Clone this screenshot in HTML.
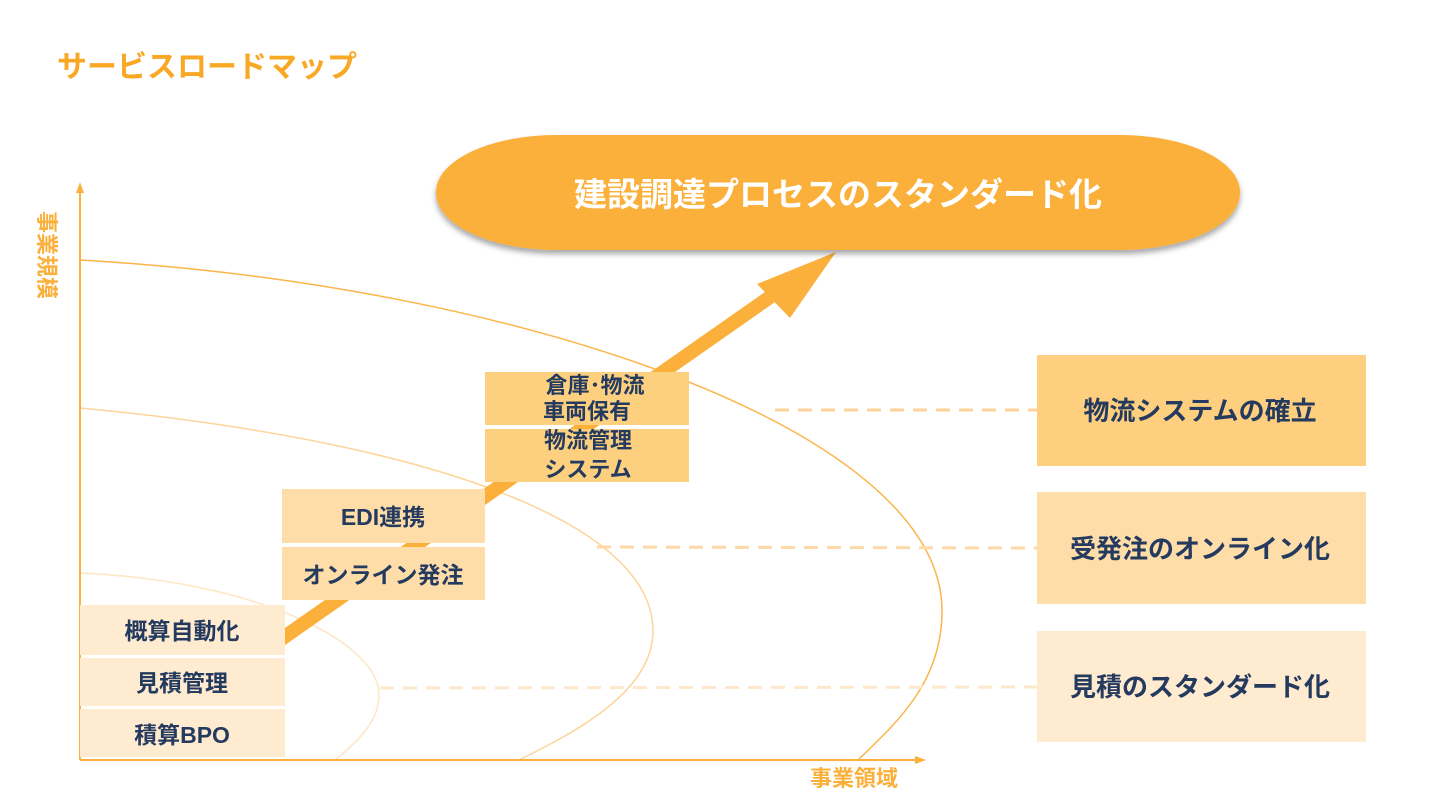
<!DOCTYPE html>
<html><head><meta charset="utf-8"><style>
body{margin:0;background:#fff;width:1440px;height:806px;overflow:hidden;font-family:"Liberation Sans","Noto Sans CJK JP",sans-serif}
</style></head><body>
<svg width="1440" height="806" viewBox="0 0 1440 806" xmlns="http://www.w3.org/2000/svg" style="font-family:'Liberation Sans','Noto Sans CJK JP',sans-serif;font-weight:bold">
<defs><filter id="sh" x="-10%" y="-20%" width="120%" height="150%"><feDropShadow dx="0" dy="4" stdDeviation="3" flood-color="#000" flood-opacity="0.35"/></filter></defs>
<text x="57" y="77" font-size="30" fill="#f9a825">サービスロードマップ</text>
<!-- curves -->
<path d="M80,260 C520,285 942,430 942,611 C942,680 900,720 858,760" fill="none" stroke="#fbb54a" stroke-width="1.5"/>
<path d="M80,408 C420,440 653,520 653,631 C653,690 580,730 519,760" fill="none" stroke="#fdd49a" stroke-width="1.5"/>
<path d="M80,573 C250,580 379,640 379,695 C379,720 360,740 335,760" fill="none" stroke="#fee6c4" stroke-width="1.5"/>
<!-- dashed -->
<g stroke-dasharray="14,9" stroke-width="3">
<line x1="775" y1="410" x2="1037" y2="410" stroke="#fdd39a"/>
<line x1="597" y1="547" x2="1037" y2="548" stroke="#fdd9a8"/>
<line x1="380" y1="688" x2="1037" y2="687" stroke="#fee8cc"/>
</g>
<!-- axes -->
<line x1="80" y1="190" x2="80" y2="760" stroke="#fbb03b" stroke-width="2"/>
<polygon points="80,182 76,193 84,193" fill="#fbb03b"/>
<line x1="80" y1="760" x2="918" y2="760" stroke="#fbb03b" stroke-width="2"/>
<polygon points="926,760 915,756 915,764" fill="#fbb03b"/>
<text font-size="22" fill="#fbb03b" transform="translate(39,211) rotate(90)">事業規模</text>
<text x="810" y="786" font-size="22" fill="#fbb03b">事業領域</text>
<!-- arrow -->
<line x1="280" y1="640" x2="780" y2="290" stroke="#fbb03b" stroke-width="14"/>
<polygon points="836,252 757,284 790,318" fill="#fbb03b"/>
<!-- pill -->
<rect x="436" y="135" width="804" height="115" rx="120" ry="57" fill="#fbb03b" filter="url(#sh)"/>
<text x="838" y="206" font-size="33" fill="#fff" text-anchor="middle">建設調達プロセスのスタンダード化</text>
<!-- left boxes -->
<g font-size="23" fill="#243a5e" text-anchor="middle">
<rect x="80" y="605" width="205" height="50" fill="#feebd0"/>
<rect x="80" y="658" width="205" height="48" fill="#feebd0"/>
<rect x="80" y="709" width="205" height="48" fill="#feebd0"/>
<text x="182" y="639">概算自動化</text>
<text x="182" y="691">見積管理</text>
<text x="182" y="743">積算BPO</text>
<rect x="282" y="489" width="203" height="54" fill="#fedda8"/>
<rect x="282" y="547" width="203" height="53" fill="#fedda8"/>
<text x="383" y="525">EDI連携</text>
<text x="383" y="583">オンライン発注</text>
<rect x="485" y="372" width="204" height="53" fill="#fdd080"/>
<rect x="485" y="429" width="204" height="53" fill="#fdd080"/>
<text x="595" y="393" font-size="22">倉庫･物流</text>
<text x="587" y="419" font-size="22">車両保有</text>
<text x="588" y="448" font-size="22">物流管理</text>
<text x="588" y="477" font-size="22">システム</text>
<!-- right boxes -->
<rect x="1037" y="355" width="329" height="111" fill="#fdcf7f"/>
<rect x="1037" y="492" width="329" height="112" fill="#fedda8"/>
<rect x="1037" y="631" width="329" height="111" fill="#feebd0"/>
<text x="1200" y="420" font-size="26">物流システムの確立</text>
<text x="1200" y="558" font-size="26">受発注のオンライン化</text>
<text x="1200" y="696" font-size="26">見積のスタンダード化</text>
</g>
</svg>
</body></html>
